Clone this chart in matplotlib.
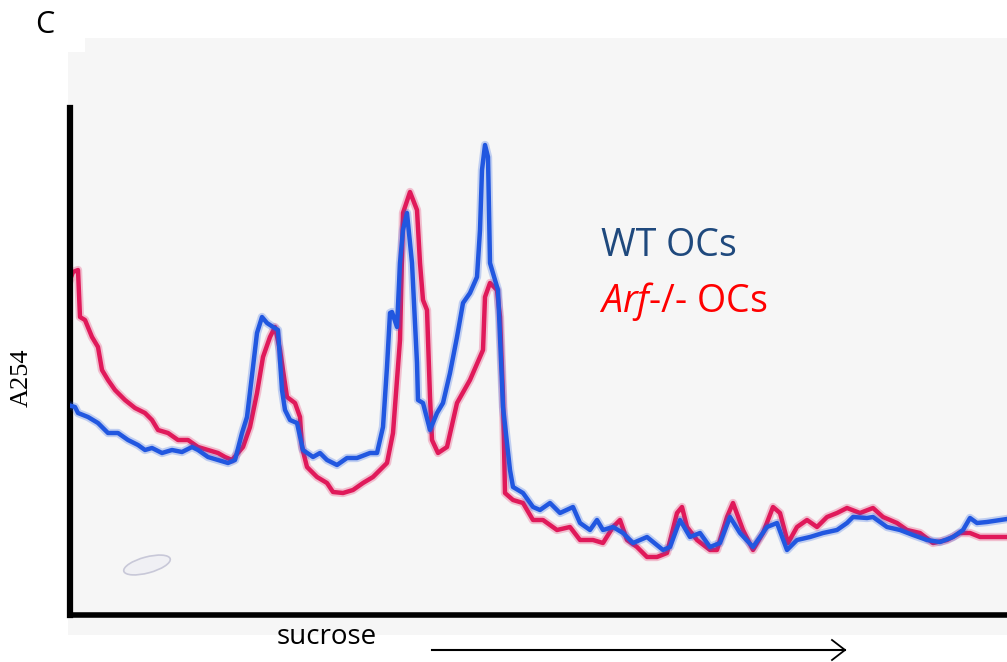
import matplotlib
matplotlib.use("Agg")
import matplotlib.pyplot as plt
from matplotlib.patches import Rectangle, Ellipse

plt.rcParams["mathtext.fontset"] = "custom"
plt.rcParams["mathtext.it"] = "Open Sans:italic"

# traces: x position along gradient, A254 (pixel row, top = high)
wt_x = [68, 75, 78, 88, 98, 108, 118, 128, 138, 145, 152, 162, 172, 182, 192, 198,
        208, 218, 228, 235, 242, 247, 253, 257, 262, 267, 273, 278, 282, 285, 290, 297,
        303, 313, 320, 327, 337, 347, 357, 370, 377, 383, 387, 390, 392, 397, 400, 403,
        407, 412, 417, 418, 423, 430, 437, 443, 450, 457, 463, 470, 477, 480, 482, 485,
        488, 490, 495, 498, 503, 510, 513, 523, 533, 540, 550, 560, 573, 580, 590, 597,
        603, 613, 623, 633, 647, 663, 670, 680, 690, 700, 710, 720, 730, 740, 753, 767,
        777, 787, 797, 810, 823, 837, 847, 853, 867, 873, 887, 900, 913, 927, 940, 953,
        963, 970, 977, 987, 1007]
wt_y = [405, 407, 413, 417, 423, 433, 433, 440, 445, 450, 448, 453, 450, 452, 447, 450,
        457, 460, 463, 460, 433, 417, 367, 333, 317, 323, 327, 330, 390, 410, 420, 423,
        450, 457, 453, 460, 465, 458, 458, 453, 453, 427, 367, 313, 312, 327, 263, 230,
        213, 263, 363, 400, 403, 430, 413, 403, 373, 337, 303, 293, 277, 230, 170, 145,
        157, 263, 280, 290, 407, 470, 487, 493, 507, 510, 503, 513, 507, 523, 530, 520,
        530, 527, 533, 543, 537, 550, 547, 520, 537, 533, 547, 543, 517, 533, 547, 527,
        523, 550, 540, 537, 533, 530, 523, 517, 518, 517, 527, 530, 535, 540, 542, 537,
        530, 518, 523, 522, 519]

arf_x = [68, 73, 78, 80, 85, 92, 98, 102, 108, 115, 125, 135, 145, 152, 158, 168,
         178, 188, 198, 208, 218, 225, 232, 243, 250, 257, 263, 270, 275, 280, 287, 295,
         300, 302, 307, 317, 327, 333, 343, 353, 363, 373, 387, 393, 400, 403, 410, 417,
         420, 423, 427, 430, 432, 438, 447, 457, 470, 483, 485, 490, 497, 500, 503, 505,
         513, 523, 533, 543, 557, 570, 580, 593, 603, 613, 620, 627, 637, 647, 657, 667,
         677, 682, 687, 697, 710, 717, 727, 733, 743, 753, 763, 773, 780, 788, 797, 807,
         817, 827, 837, 847, 860, 873, 883, 897, 907, 920, 933, 947, 960, 970, 980, 1007]
arf_y = [285, 272, 270, 317, 320, 337, 347, 370, 380, 390, 400, 408, 413, 420, 430, 433,
         440, 440, 447, 450, 453, 457, 460, 447, 427, 393, 357, 337, 327, 350, 397, 403,
         417, 447, 467, 477, 483, 492, 493, 490, 483, 477, 463, 433, 340, 213, 192, 210,
         263, 300, 310, 397, 440, 453, 447, 403, 380, 350, 297, 283, 290, 317, 397, 493,
         500, 503, 520, 520, 530, 527, 540, 540, 543, 527, 520, 540, 547, 557, 557, 553,
         513, 507, 527, 540, 550, 550, 517, 503, 530, 550, 533, 507, 513, 543, 527, 520,
         527, 517, 513, 508, 513, 508, 517, 523, 530, 533, 543, 540, 533, 533, 537, 537]

W, H = 1007, 662
fig = plt.figure(figsize=(W / 100, H / 100), dpi=100)
fig.patch.set_facecolor("white")

# scanned paper background
bg = fig.add_axes([0, 0, 1, 1], zorder=0)
bg.set_xlim(0, W)
bg.set_ylim(H, 0)
bg.axis("off")
bg.add_patch(Rectangle((68, 52), W - 68, 635 - 52, facecolor="#f6f6f6", edgecolor="none"))
bg.add_patch(Rectangle((85, 38), W - 85, 20, facecolor="#f6f6f6", edgecolor="none"))

ax = fig.add_axes([70 / W, (H - 615) / H, (W - 70) / W, (615 - 108) / H], zorder=2)
ax.patch.set_alpha(0.0)

# soft halo to mimic the scanned ink, then the trace itself
ax.plot(wt_x, wt_y, color="#2157e0", lw=6, alpha=0.25, solid_joinstyle="round", zorder=3)
ax.plot(arf_x, arf_y, color="#e0195a", lw=6, alpha=0.25, solid_joinstyle="round", zorder=2)
ax.plot(wt_x, wt_y, color="#2157e0", lw=3.2, solid_joinstyle="round", zorder=3)
ax.plot(arf_x, arf_y, color="#e0195a", lw=3.2, solid_joinstyle="round", zorder=2)

ax.set_xlim(70, 1007)
ax.set_ylim(615, 108)
for s in ["top", "right"]:
    ax.spines[s].set_visible(False)
ax.spines["left"].set_linewidth(4.5)
ax.spines["bottom"].set_linewidth(4.0)
ax.set_xticks([])
ax.set_yticks([])

ax.add_patch(Ellipse((147, 565), 48, 16, angle=-15, facecolor="#f0f0f4",
                     edgecolor="#c8c8d8", lw=1.2, zorder=1))

fig.text(45 / W, 1 - 25 / H, "C", fontsize=22, family="Open Sans",
         ha="center", va="center")
fig.text(22 / W, 1 - 378 / H, "A254", fontsize=19, family="Liberation Serif",
         rotation=90, ha="center", va="center")
fig.text(601 / W, 1 - 246 / H, "WT OCs", fontsize=27, family="Open Sans",
         color="#1f497d", ha="left", va="center")
fig.text(599 / W, 1 - 301 / H, "$\\mathit{Arf}$-/- OCs", fontsize=27, family="Open Sans",
         color="#ff0000", ha="left", va="center")
fig.text(327 / W, 1 - 637 / H, "sucrose", fontsize=20, family="Open Sans",
         ha="center", va="center")
fig.add_artist(plt.Line2D([432 / W, 845 / W], [1 - 650 / H, 1 - 650 / H],
                          transform=fig.transFigure, color="black", lw=1.5))
fig.add_artist(plt.Line2D([832 / W, 845 / W, 832 / W],
                          [1 - 640 / H, 1 - 650 / H, 1 - 660 / H],
                          transform=fig.transFigure, color="black", lw=1.3))

fig.savefig("out.png", dpi=100)
